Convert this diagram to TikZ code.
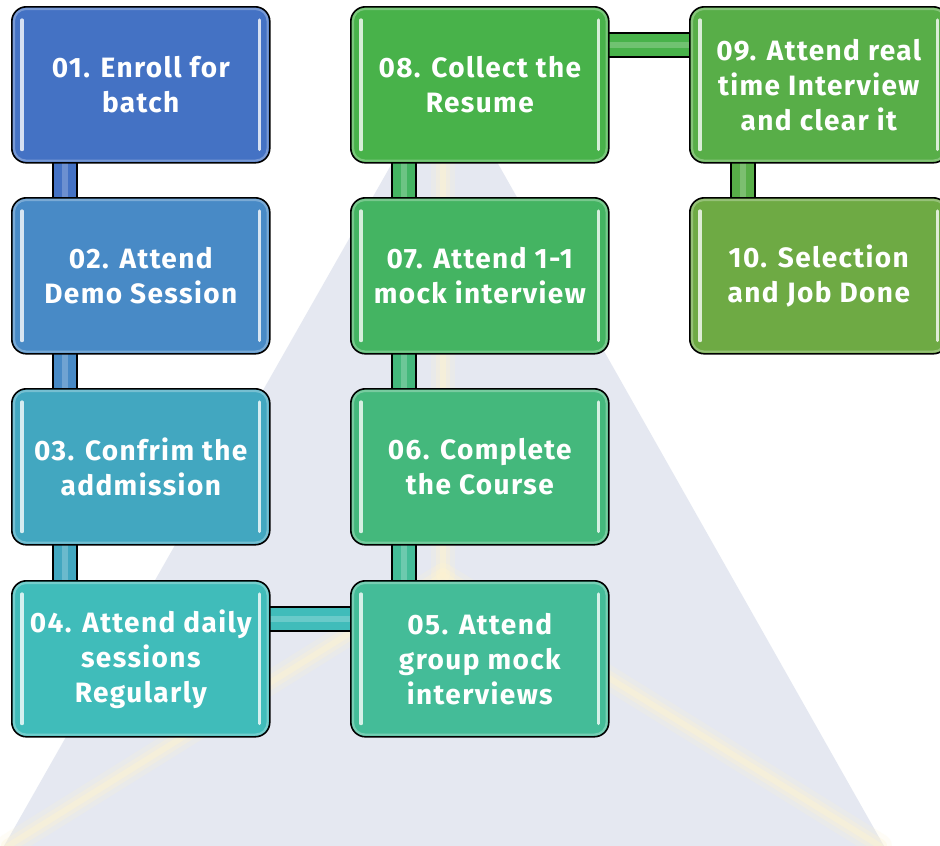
\documentclass[tikz,border=0pt]{standalone}
\usepackage{fontspec}
\setmainfont{Fira Sans}[Ligatures=NoCommon, LetterSpace=5]
\usetikzlibrary{calc}
\pgfdeclarelayer{wm}
\pgfdeclarelayer{conn}
\pgfsetlayers{wm,conn,main}
\definecolor{c1}{RGB}{68,114,196}
\definecolor{c2}{RGB}{72,138,198}
\definecolor{c3}{RGB}{66,167,192}
\definecolor{c4}{RGB}{64,188,186}
\definecolor{c5}{RGB}{68,188,152}
\definecolor{c6}{RGB}{68,184,124}
\definecolor{c7}{RGB}{68,180,98}
\definecolor{c8}{RGB}{72,178,74}
\definecolor{c9}{RGB}{88,174,72}
\definecolor{c10}{RGB}{110,170,68}
\definecolor{wmgray}{RGB}{229,232,241}
\definecolor{wmyel}{RGB}{253,243,210}
\tikzset{
  stepbox/.style={draw=black, line width=1.2pt, rounded corners=11pt,
    minimum width=193.5pt, minimum height=117pt, inner sep=0pt, align=center,
    text=white, font=\fontsize{21}{26.25}\selectfont\bfseries, anchor=north west},
  hilite/.style={line width=2.4pt, line cap=round},
  connbar/.style={line width=19.5pt, draw=black,
    postaction={draw=#1, line width=17.2pt},
    postaction={draw=white, opacity=0.22, line width=5pt}},
  stripe/.style={draw=wmyel, line cap=round}
}
\newcommand\mybox[5]{%
  \node[stepbox, fill=#4] (#1) at (#2,#3) {#5};
  \draw[white, opacity=0.28, line width=1.6pt, rounded corners=9pt]
    ($(#1.north west)+(3,3)$) rectangle ($(#1.south east)+(-3,-3)$);
  \draw[hilite, draw=#4!22!white] ($(#1.north west)+(11,14)$) -- ($(#1.south west)+(11,-14)$);
  \draw[hilite, draw=#4!22!white] ($(#1.north east)+(-11,14)$) -- ($(#1.south east)+(-11,-14)$);
}
\newcommand\vconn[3]{%
  \begin{pgfonlayer}{conn}
  \draw[connbar=#3] ($(#1.south west)+(54,-12)$) -- ($(#2.north west)+(54,12)$);
  \end{pgfonlayer}}
\newcommand\hconn[3]{%
  \begin{pgfonlayer}{conn}
  \draw[connbar=#3] ($(#1.north east)+(-12,39)$) -- ($(#2.north west)+(12,39)$);
  \end{pgfonlayer}}
\begin{document}
\begin{tikzpicture}[x=0.75pt,y=-0.75pt]
\useasboundingbox (0,0) rectangle (940,846);
\begin{pgfonlayer}{wm}
  \fill[white] (0,0) rectangle (940,846);
  \fill[wmgray] (445,70) -- (884,846) -- (4,846) -- cycle;
  \foreach \w/\o in {24/0.2,14/0.3,6/0.45}{
    \draw[stripe, line width=\w*0.75pt, opacity=\o] (443,165) -- (443,575);
    \draw[stripe, line width=\w*0.75pt, opacity=\o] (443,575) -- (8,846);
    \draw[stripe, line width=\w*0.75pt, opacity=\o] (443,575) -- (880,846);
  }
\end{pgfonlayer}
\mybox{b1}{11}{6}{c1}{01. Enroll for\\batch}
\mybox{b2}{11}{197}{c2}{02. Attend\\Demo Session}
\mybox{b3}{11}{388}{c3}{03. Confrim the\\addmission}
\mybox{b4}{11}{580}{c4}{04. Attend daily\\sessions\\Regularly}
\mybox{b5}{350}{580}{c5}{05. Attend\\group mock\\interviews}
\mybox{b6}{350}{388}{c6}{06. Complete\\the Course}
\mybox{b7}{350}{197}{c7}{07. Attend 1-1\\mock interview}
\mybox{b8}{350}{6}{c8}{08. Collect the\\Resume}
\mybox{b9}{689}{6}{c9}{09. Attend real\\time Interview\\and clear it}
\mybox{b10}{689}{197}{c10}{10. Selection\\and Job Done}
\vconn{b1}{b2}{c1}
\vconn{b2}{b3}{c2}
\vconn{b3}{b4}{c3}
\hconn{b4}{b5}{c4}
\vconn{b6}{b5}{c5}
\vconn{b7}{b6}{c6}
\vconn{b8}{b7}{c7}
\hconn{b8}{b9}{c8}
\vconn{b9}{b10}{c9}
\end{tikzpicture}
\end{document}
